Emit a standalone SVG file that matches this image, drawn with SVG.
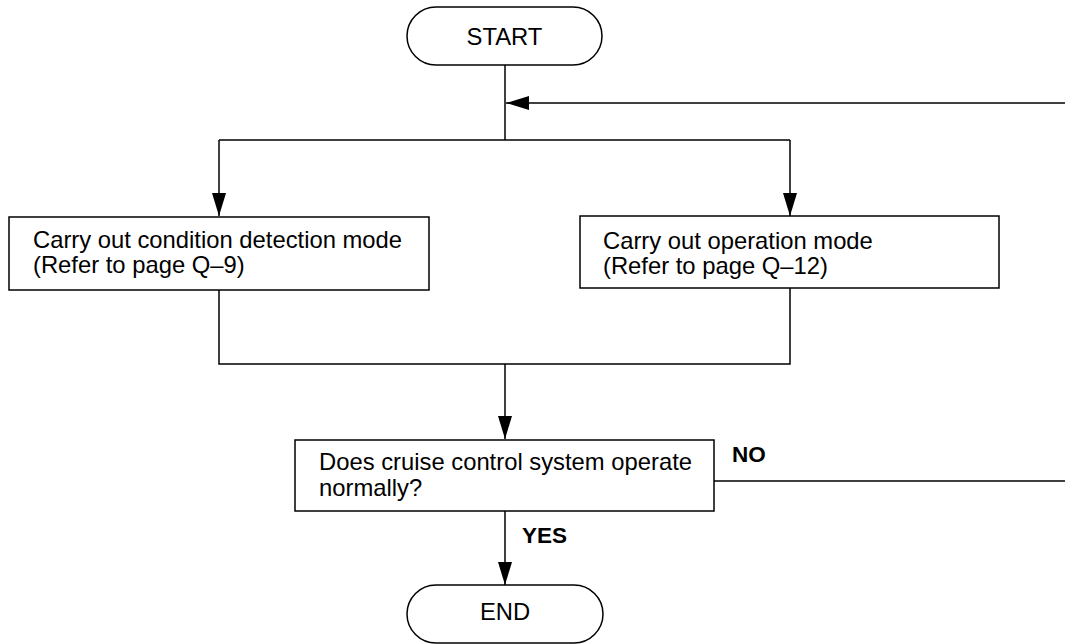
<svg xmlns="http://www.w3.org/2000/svg" width="1065" height="644" viewBox="0 0 1065 644">
<style>
.box{fill:#fff;stroke:#000;stroke-width:1.5}
.ln{fill:none;stroke:#000;stroke-width:1.5}
.t{font-family:"Liberation Sans",Arial,sans-serif;font-size:23.8px;fill:#000}
.b{font-family:"Liberation Sans",Arial,sans-serif;font-size:22.5px;font-weight:bold;fill:#000}
</style>
<defs>
<marker id="ah" markerWidth="24" markerHeight="14" refX="23" refY="7" orient="auto" markerUnits="userSpaceOnUse">
<path d="M0,0 L23,7 L0,14 Z" fill="#000"/>
</marker>
</defs>
<rect width="1065" height="644" fill="#fff"/>
<g id="connectors">
<path class="ln" d="M505,65 V140"/>
<path class="ln" d="M1065,103 H506" marker-end="url(#ah)"/>
<path class="ln" d="M219,140 H790"/>
<path class="ln" d="M219,140 V216" marker-end="url(#ah)"/>
<path class="ln" d="M790,140 V216" marker-end="url(#ah)"/>
<path class="ln" d="M219,290 V364 H790 V288"/>
<path class="ln" d="M505,364 V439" marker-end="url(#ah)"/>
<path class="ln" d="M505,511 V585" marker-end="url(#ah)"/>
<path class="ln" d="M714,481 H1065"/>
<text class="b" x="732" y="462">NO</text>
<text class="b" x="522" y="543">YES</text>
</g>
<g id="start">
<rect class="box" x="407" y="7" width="195" height="58" rx="29" ry="29"/>
<text class="t" x="504.5" y="45" text-anchor="middle">START</text>
</g>
<g id="condition">
<rect class="box" x="9" y="217" width="420" height="73"/>
<text class="t" x="33" y="248">Carry out condition detection mode</text>
<text class="t" x="33" y="273">(Refer to page Q–9)</text>
</g>
<g id="operation">
<rect class="box" x="580" y="216" width="419" height="72"/>
<text class="t" x="603" y="249">Carry out operation mode</text>
<text class="t" x="603" y="274">(Refer to page Q–12)</text>
</g>
<g id="decision">
<rect class="box" x="295" y="440" width="419" height="71"/>
<text class="t" x="319" y="470">Does cruise control system operate</text>
<text class="t" x="319" y="496">normally?</text>
</g>
<g id="end">
<rect class="box" x="407" y="585" width="196" height="58" rx="29" ry="29"/>
<text class="t" x="505" y="620" text-anchor="middle">END</text>
</g>
</svg>
